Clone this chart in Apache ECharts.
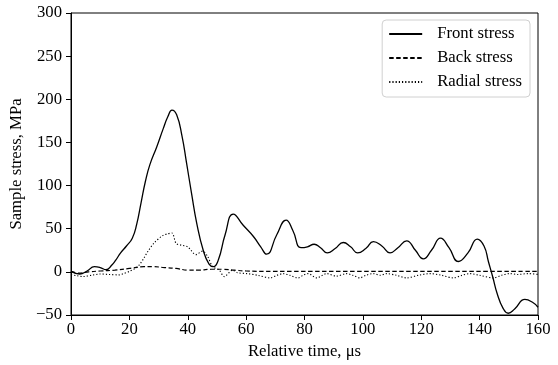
<!DOCTYPE html>
<html>
<head>
<meta charset="utf-8">
<script src="https://cdn.jsdelivr.net/npm/echarts@6/dist/echarts.min.js"></script>
<style>
  html, body { margin: 0; padding: 0; background: #fff; }
  #chart { width: 558px; height: 365px; }
</style>
</head>
<body>
<div id="chart"></div>
<script>
// Stress histories recorded on the specimen (time in µs, stress in MPa)
const frontTime = [0, 3, 5.5, 8, 10, 12, 14, 15.4, 17, 19, 21, 22.5, 24, 25.5, 27, 29.4, 31.6, 33.2, 34.6, 36.2, 38, 39.6, 41.3, 43.1, 45.3, 47.3, 48.8, 50.5, 52.8, 55.6, 59, 62.5, 65, 67, 70.5, 73.7, 76, 78.8, 81, 83.3, 85.5, 87.8, 90.5, 93.3, 95.8, 98.2, 101, 103.6, 106.5, 109.3, 112, 115, 118, 120.7, 123.5, 126.6, 129.5, 132.7, 136, 139.2, 141.5, 143, 144.5, 146, 148, 149.8, 152, 155.5, 158, 160];
const frontStress = [0.5, -2.5, 1, 6, 5, 2.5, 8, 14, 22, 30, 39, 55, 80, 105, 124, 145, 166, 180, 187.5, 182, 158, 126, 91, 56, 25, 9, 6, 14, 43, 67, 54, 41, 29, 20.5, 43, 60, 48, 28, 29, 32, 28, 22, 27, 34, 29, 22, 27, 35, 30, 22, 28, 36, 25, 15, 25, 39, 28, 12, 22, 38, 30, 12, -6, -25, -42, -48, -43, -32, -35, -41];

const backTime = [0, 3, 6, 10, 15, 20, 25, 28, 32, 36, 40, 44, 48, 52, 56, 60, 70, 160];
const backStress = [0.5, -1.5, 0, 1, 2, 4, 6, 6, 5, 4, 2, 2, 3, 3, 2, 1, 0.5, 0.5];

const radialTime = [0, 2, 4, 7, 10, 13, 16.5, 18, 20, 22, 23.4, 25, 26.3, 28.6, 31.4, 33, 34.6, 36, 37.7, 40, 42.8, 45.1, 46.8, 48.5, 50.8, 52.5, 55.4, 57, 60.2, 64, 68.2, 70.5, 72.7, 75, 77.8, 79.5, 81.2, 84.2, 87.6, 91, 94.4, 96.5, 99, 101, 103.6, 106, 108, 111.5, 115, 119, 123, 127, 131, 134, 136.7, 140, 144.7, 147.5, 150.4, 153, 156.6, 160];
const radialStress = [-3, -4.5, -5.5, -4, -2.5, -3, -3.5, -2, 0.5, 4, 8, 16, 23.5, 34, 42, 44, 45, 33, 31, 29, 20, 24, 18, 6, 2, -5.5, 2, -1, -2, -4, -7, -4, -2, -4, -7, -4, -2, -7, -2, -5, -2, -4, -7, -4, -2, -4, -2, -4, -7, -4, -2, -4, -7, -4, -2, -4, -7, -4, -2, -3, -2, -3];

const xTicks = { min: 0, max: 160, interval: 20 };
const yTicks = { min: -50, max: 300, interval: 50 };

const pairs = (xs, ys) => xs.map((x, i) => [x, ys[i]]);
// typographic minus for negative tick values
const tickText = (v) => String(v).replace('-', '\u2212');

const font = 'Liberation Serif';
const fontSize = 16.7;
const chart = echarts.init(document.getElementById('chart'), null, { renderer: 'canvas' });

const axisCommon = {
  axisLine: { show: true, onZero: false, lineStyle: { color: '#000', width: 1 } },
  axisTick: { show: true, inside: false, length: 5, lineStyle: { color: '#000', width: 1 } },
  splitLine: { show: false },
  axisLabel: { color: '#000', fontFamily: font, fontSize: fontSize, formatter: tickText },
  nameTextStyle: { color: '#000', fontFamily: font, fontSize: fontSize }
};

chart.setOption({
  animation: false,
  backgroundColor: '#fff',
  grid: { left: 71, right: 20, top: 13, bottom: 50, show: true, borderColor: '#000', borderWidth: 1 },
  xAxis: Object.assign({}, axisCommon, {
    type: 'value', min: xTicks.min, max: xTicks.max, interval: xTicks.interval,
    name: 'Relative time, μs', nameLocation: 'middle', nameGap: 25,
    axisLabel: Object.assign({}, axisCommon.axisLabel, { margin: 6 })
  }),
  yAxis: Object.assign({}, axisCommon, {
    type: 'value', min: yTicks.min, max: yTicks.max, interval: yTicks.interval,
    name: 'Sample stress, MPa', nameLocation: 'middle', nameGap: 38, nameRotate: 90,
    axisLabel: Object.assign({}, axisCommon.axisLabel, { margin: 9 })
  }),
  legend: {
    orient: 'vertical', right: 28, top: 20,
    backgroundColor: '#fff', borderColor: '#d0d0d0', borderWidth: 1, borderRadius: 4,
    padding: [5, 8, 6, 6], itemWidth: 33, itemHeight: 14, itemGap: 6,
    itemStyle: { opacity: 0 },
    textStyle: { color: '#000', fontFamily: font, fontSize: fontSize, lineHeight: 18, padding: [0, 0, 0, 10] },
    data: ['Front stress', 'Back stress', 'Radial stress']
  },
  series: [
    {
      name: 'Front stress', type: 'line', data: pairs(frontTime, frontStress),
      smooth: 0.5, showSymbol: false, symbol: 'none',
      lineStyle: { color: '#000', width: 1.3, type: 'solid' }, itemStyle: { color: '#000' }
    },
    {
      name: 'Back stress', type: 'line', data: pairs(backTime, backStress),
      smooth: 0.4, showSymbol: false, symbol: 'none',
      lineStyle: { color: '#000', width: 1.2, type: [4.5, 2.5] }, itemStyle: { color: '#000' }
    },
    {
      name: 'Radial stress', type: 'line', data: pairs(radialTime, radialStress),
      smooth: 0.3, showSymbol: false, symbol: 'none',
      lineStyle: { color: '#000', width: 1.1, type: [1.2, 2] }, itemStyle: { color: '#000' }
    }
  ]
});
</script>
</body>
</html>
